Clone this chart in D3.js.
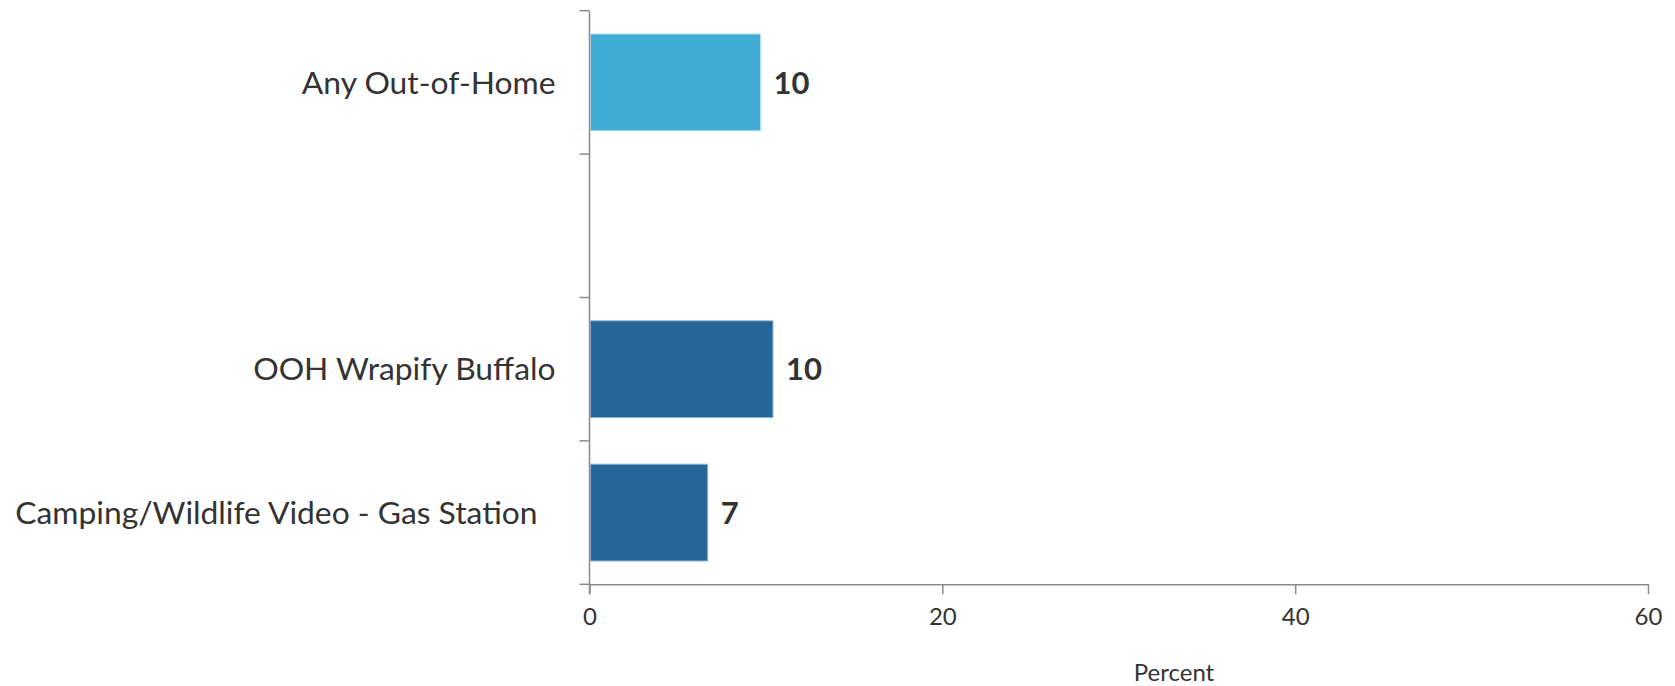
<!DOCTYPE html>
<html>
<head>
<meta charset="utf-8">
<script src="https://cdn.jsdelivr.net/npm/d3@7"></script>
<style>
  html, body { margin: 0; padding: 0; background: #ffffff; }
  svg { display: block; }
  text { font-family: "Lato", "Open Sans", "Liberation Sans", sans-serif; }
</style>
</head>
<body>
<div id="chart"></div>
<script>
// Categories, top to bottom; the empty entry is a spacer row between the total and the placements.
const categories = ["Any Out-of-Home", "", "OOH Wrapify Buffalo", "Camping/Wildlife Video - Gas Station"];
const values = [9.7, null, 10.4, 6.7];
const groups = ["total", null, "placement", "placement"];
const xTicks = [0, 20, 40, 60];
const xTitle = "Percent";

const W = 1675, H = 686;
const margin = { top: 10.7, right: 27, bottom: 101.7, left: 589.5 };
const innerW = W - margin.left - margin.right;
const innerH = H - margin.top - margin.bottom;

const colors = { total: "#41acd5", placement: "#276698" };
const edges = { total: "#b9e0ef", placement: "#8fb5d6" };
const axisColor = "#8c8c8c";
const textColor = "#333333";

const svg = d3.select("#chart").append("svg")
  .attr("width", W).attr("height", H);
const g = svg.append("g").attr("transform", `translate(${margin.left},${margin.top})`);

const x = d3.scaleLinear().domain([0, 60]).range([0, innerW]);
const y = d3.scaleBand().domain(categories.map((c, i) => i)).range([0, innerH])
  .paddingInner(0.325).paddingOuter(0.1625);

// Bars
const rows = categories.map((c, i) => ({ i, c, v: values[i], grp: groups[i] }))
  .filter(d => d.v != null);

g.selectAll("rect.bar").data(rows).join("rect")
  .attr("class", "bar")
  .attr("x", x(0) + 1)
  .attr("y", d => y(d.i))
  .attr("width", d => x(d.v) - x(0) - 1)
  .attr("height", y.bandwidth())
  .attr("fill", d => colors[d.grp])
  .attr("stroke", d => edges[d.grp])
  .attr("stroke-width", 1);

// Value labels
const fmt = d3.format(".0f");
g.selectAll("text.value").data(rows).join("text")
  .attr("class", "value")
  .attr("x", d => x(d.v) + 13)
  .attr("y", d => y(d.i) + y.bandwidth() / 2)
  .attr("dy", "0.36em")
  .attr("font-size", 31)
  .attr("font-weight", 700)
  .attr("fill", textColor)
  .text(d => fmt(d.v));

// Category labels
g.selectAll("text.cat").data(categories.map((c, i) => ({ c, i })).filter(d => d.c)).join("text")
  .attr("class", "cat")
  .attr("x", d => d.i === 3 ? -52 : -34)
  .attr("y", d => y(d.i) + y.bandwidth() / 2)
  .attr("dy", "0.35em")
  .attr("text-anchor", "end")
  .attr("font-size", 31.8)
  .attr("fill", textColor)
  .text(d => d.c);

// Vertical axis with ticks at category boundaries
const yAxis = g.append("g");
yAxis.append("line")
  .attr("x1", 0).attr("x2", 0).attr("y1", 0).attr("y2", innerH + 10)
  .attr("stroke", axisColor).attr("stroke-width", 1.5);
const bounds = d3.range(categories.length + 1).map(k => k * y.step());
yAxis.selectAll("line.tick").data(bounds).join("line")
  .attr("class", "tick")
  .attr("x1", -10).attr("x2", 0)
  .attr("y1", d => d).attr("y2", d => d)
  .attr("stroke", axisColor).attr("stroke-width", 1.5);

// Horizontal axis
const xAxis = g.append("g").attr("transform", `translate(0,${innerH})`)
  .call(d3.axisBottom(x).tickValues(xTicks).tickSize(10).tickPadding(14).tickSizeOuter(0));
xAxis.select(".domain").attr("stroke", axisColor).attr("stroke-width", 1.5);
xAxis.selectAll(".tick line").attr("stroke", axisColor).attr("stroke-width", 1.5);
xAxis.selectAll(".tick text")
  .attr("font-family", "Lato, 'Open Sans', sans-serif")
  .attr("font-size", 24).attr("fill", textColor);

g.append("text")
  .attr("x", 1174 - margin.left)
  .attr("y", innerH + 88)
  .attr("dy", "0.35em")
  .attr("text-anchor", "middle")
  .attr("font-size", 24)
  .attr("fill", textColor)
  .text(xTitle);
</script>
</body>
</html>
